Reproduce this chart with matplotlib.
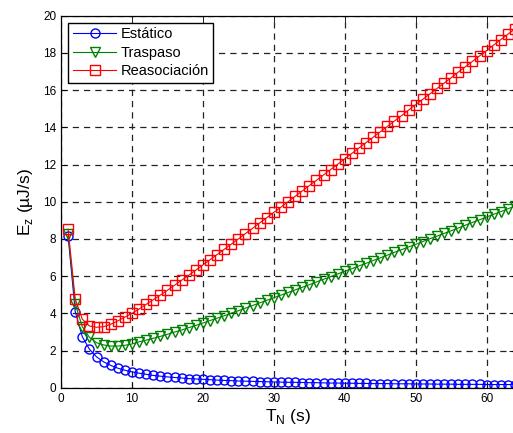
import matplotlib
matplotlib.use("Agg")
import matplotlib.pyplot as plt

plt.rcParams['font.family'] = ['Liberation Sans', 'DejaVu Sans']

# Tiempo de notificación T_N (s)
tn = list(range(1, 65))

estatico = [8.14, 4.09, 2.74, 2.07, 1.66, 1.39, 1.20, 1.05, 0.94, 0.85,
            0.78, 0.72, 0.66, 0.62, 0.58, 0.55, 0.52, 0.49, 0.47, 0.45,
            0.43, 0.41, 0.39, 0.38, 0.36, 0.35, 0.34, 0.33, 0.32, 0.31,
            0.30, 0.29, 0.29, 0.28, 0.27, 0.27, 0.26, 0.25, 0.25, 0.24,
            0.24, 0.23, 0.23, 0.22, 0.22, 0.22, 0.21, 0.21, 0.21, 0.20,
            0.20, 0.20, 0.19, 0.19, 0.19, 0.18, 0.18, 0.18, 0.18, 0.17,
            0.17, 0.17, 0.17, 0.17]

traspaso = [8.26, 4.50, 3.28, 2.71, 2.42, 2.30, 2.24, 2.24, 2.28, 2.35,
            2.47, 2.56, 2.66, 2.76, 2.87, 2.99, 3.10, 3.23, 3.35, 3.48,
            3.61, 3.74, 3.87, 4.01, 4.14, 4.28, 4.42, 4.56, 4.70, 4.84,
            4.98, 5.12, 5.26, 5.40, 5.54, 5.69, 5.83, 5.97, 6.12, 6.26,
            6.40, 6.55, 6.69, 6.84, 6.98, 7.13, 7.28, 7.42, 7.57, 7.71,
            7.86, 8.01, 8.15, 8.30, 8.44, 8.59, 8.74, 8.89, 9.03, 9.18,
            9.33, 9.47, 9.62, 9.77]

reasociacion = [8.52, 4.77, 3.68, 3.32, 3.25, 3.28, 3.41, 3.59, 3.80, 4.00,
                4.23, 4.48, 4.73, 4.98, 5.24, 5.51, 5.78, 6.05, 6.32, 6.60,
                6.88, 7.16, 7.44, 7.72, 8.00, 8.29, 8.57, 8.86, 9.14, 9.43,
                9.71, 10.00, 10.29, 10.58, 10.87, 11.15, 11.44, 11.73, 12.02, 12.31,
                12.60, 12.89, 13.18, 13.47, 13.76, 14.05, 14.34, 14.63, 14.93, 15.22,
                15.51, 15.80, 16.09, 16.38, 16.67, 16.97, 17.26, 17.55, 17.84, 18.13,
                18.43, 18.72, 19.01, 19.30]

xticks = [0, 10, 20, 30, 40, 50, 60]
yticks = [0, 2, 4, 6, 8, 10, 12, 14, 16, 18, 20]

fig = plt.figure(figsize=(5.13, 4.33), dpi=100)
ax = fig.add_axes([0.119, 0.1046, 0.885, 0.859])

ax.plot(tn, estatico, color='#0000ff', marker='o', markersize=6.5,
        markerfacecolor='none', linewidth=0.8, label='Estático')
ax.plot(tn, traspaso, color='#008000', marker='v', markersize=6.5,
        markerfacecolor='none', linewidth=0.8, label='Traspaso')
ax.plot(tn, reasociacion, color='#ff0000', marker='s', markersize=6.5,
        markerfacecolor='none', linewidth=0.8, label='Reasociación')

ax.set_xlim(0, 64)
ax.set_ylim(0, 20)
ax.set_xticks(xticks)
ax.set_yticks(yticks)
ax.tick_params(direction='in', labelsize=8.5, length=4, width=0.6,
               top=True, right=True)
ax.grid(True, color='#222222', linestyle=(0, (5, 4)), linewidth=0.9)
for s in ax.spines.values():
    s.set_linewidth(0.9)

ax.set_xlabel('T$_\\mathregular{N}$ (s)', fontsize=12.5, labelpad=2)
ax.set_ylabel('E$_\\mathregular{z}$ (µJ/s)', fontsize=12.5, labelpad=6)

leg = ax.legend(loc='upper left', fontsize=10.5, handlelength=3.0,
                fancybox=False, framealpha=1, edgecolor='black',
                borderpad=0.3, labelspacing=0.3, handletextpad=0.3,
                borderaxespad=0.5)
leg.get_frame().set_linewidth(1.0)

fig.savefig('out.png', dpi=100)
